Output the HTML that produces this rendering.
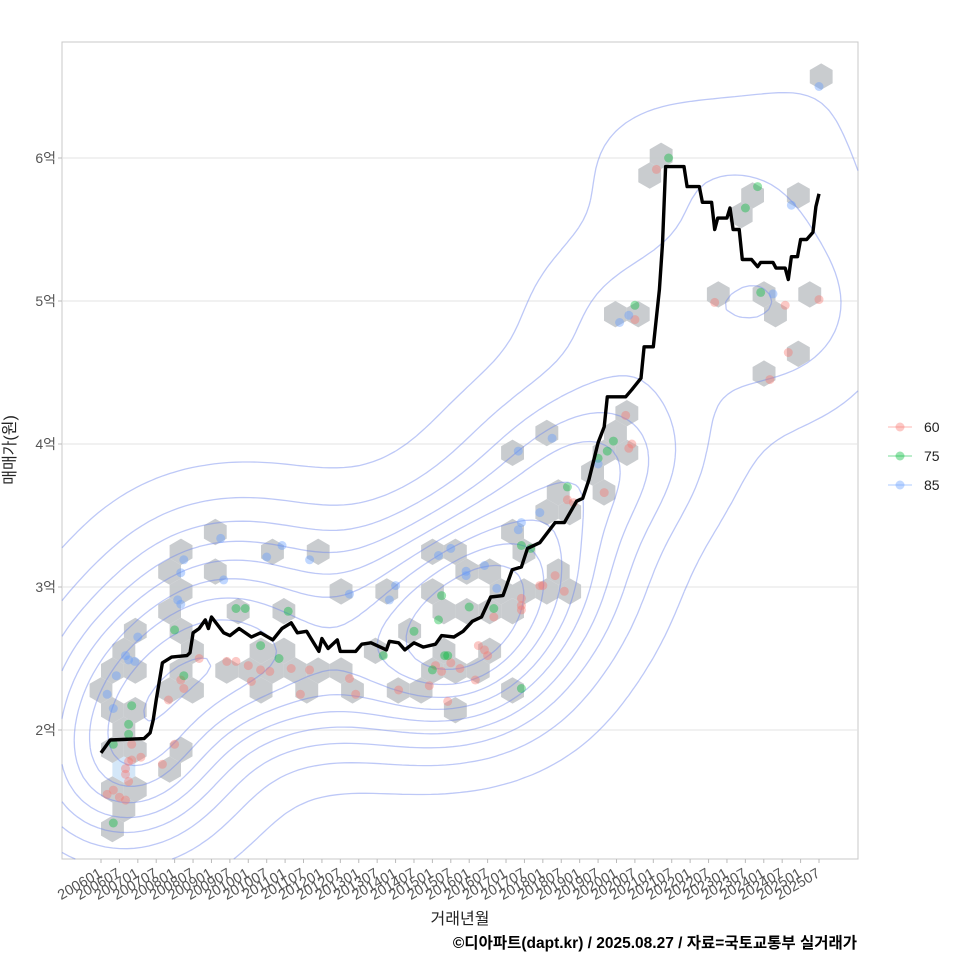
<!DOCTYPE html>
<html><head><meta charset="utf-8">
<style>
html,body{margin:0;padding:0;background:#fff;}
svg{display:block;font-family:"Liberation Sans","Noto Sans CJK KR",sans-serif;}
</style></head>
<body>
<svg id="chart" width="960" height="960" viewBox="0 0 960 960">
<rect x="0" y="0" width="960" height="960" fill="#fff"/>
<rect x="62" y="42" width="796" height="817" fill="#fff" stroke="#c8c8c8" stroke-width="1"/>
<g id="grid"></g>
<g id="hexes"></g>
<g id="contours"></g>
<g id="points"></g>
<g id="line"></g>
<g id="yaxis"></g>
<g id="xaxis"></g>
<text x="15" y="450" font-size="16" fill="#222" text-anchor="middle" transform="rotate(-90 15 450)">매매가(원)</text>
<text x="460" y="924" font-size="16" fill="#222" text-anchor="middle">거래년월</text>
<text x="857" y="948" font-size="15.5" font-weight="bold" fill="#000" text-anchor="end">©디아파트(dapt.kr) / 2025.08.27 / 자료=국토교통부 실거래가</text>
<g id="legend"></g>
</svg>
<script>
// ---- data (month index from 2006-01, price in 억) ----
const tickLabels = ["200601","200607","200701","200707","200801","200807","200901","200907","201001","201007","201101","201107","201201","201207","201301","201307","201401","201407","201501","201507","201601","201607","201701","201707","201801","201807","201901","201907","202001","202007","202101","202107","202201","202207","202301","202307","202401","202407","202501","202507"];
const yTicks = [2,3,4,5,6];
const yTickLabels = ["2억","3억","4억","5억","6억"];
const lineMonths = [0,3,14,16,17,18,20,23,28,29,30,32,34,35,36,40,42,45,49,52,56,59,62,64,67,71,72,74,77,78,83,85,88,93,94,97,99,102,105,109,111,115,118,121,124,127,131,134,137,139,143,148,151,155,157,159,162,164,165,171,173,176,177,180,182,183,184,190,191,195,196,199,200,201,204,205,206,208,209,212,214,215,219,220,223,224,225,227,228,230,232,233,234];
const lineValues = [1.84,1.93,1.94,1.98,2.07,2.21,2.47,2.51,2.52,2.54,2.68,2.71,2.77,2.71,2.79,2.68,2.66,2.71,2.65,2.68,2.63,2.71,2.75,2.68,2.69,2.55,2.64,2.57,2.63,2.55,2.55,2.6,2.61,2.56,2.62,2.61,2.56,2.61,2.58,2.6,2.66,2.65,2.69,2.76,2.79,2.93,2.94,3.12,3.14,3.27,3.31,3.45,3.45,3.6,3.62,3.75,4.01,4.12,4.33,4.33,4.38,4.46,4.68,4.68,5.08,5.4,5.94,5.94,5.8,5.8,5.69,5.69,5.5,5.58,5.58,5.65,5.5,5.5,5.29,5.29,5.24,5.27,5.27,5.23,5.23,5.15,5.31,5.31,5.43,5.43,5.48,5.66,5.75];
const redMonths = [2,4,6,8,8,9,8,9,10,10,13,20,24,26,27,22,32,41,44,48,49,52,55,62,65,68,81,83,97,107,109,111,113,114,117,122,123,125,126,128,137,137,137,143,144,148,151,152,154,164,172,173,171,174,181,200,223,218,224,234];
const redValues = [1.55,1.58,1.53,1.51,1.69,1.64,1.73,1.78,1.9,1.79,1.81,1.76,1.9,2.35,2.29,2.21,2.5,2.48,2.48,2.45,2.34,2.42,2.41,2.43,2.25,2.42,2.36,2.25,2.28,2.31,2.45,2.41,2.2,2.47,2.43,2.35,2.59,2.56,2.52,2.79,2.92,2.87,2.84,3.01,3.01,3.08,2.97,3.61,3.59,3.66,3.97,4.0,4.2,4.87,5.92,4.99,4.97,4.45,4.64,5.01];
const greenMonths = [4,4,10,9,9,27,24,44,47,61,52,58,92,102,108,110,112,113,111,120,128,137,137,140,152,162,165,167,174,185,210,214,215];
const greenValues = [1.35,1.9,2.17,2.04,1.97,2.38,2.7,2.85,2.85,2.83,2.59,2.5,2.52,2.69,2.42,2.77,2.52,2.52,2.94,2.86,2.85,2.29,3.29,3.27,3.7,3.9,3.95,4.02,4.97,6.0,5.65,5.8,5.06];
const blueMonths = [2,4,5,8,9,11,12,25,26,27,26,39,40,54,59,68,81,94,96,110,114,119,119,125,129,136,137,143,147,136,162,169,172,219,225,234];
const blueValues = [2.25,2.15,2.38,2.52,2.49,2.48,2.65,2.91,2.88,3.19,3.1,3.34,3.05,3.21,3.29,3.19,2.95,2.91,3.01,3.22,3.27,3.08,3.11,3.15,2.99,3.4,3.45,3.52,4.04,3.95,3.86,4.85,4.9,5.05,5.67,6.5];
const seriesNames = ["60","75","85"];
const seriesColors = ["#F8766D","#00BA38","#619CFF"];

// ---- scales ----
const X0=101, PX_PER_MONTH=(819-101)/234;
const xScale = m => X0 + m*PX_PER_MONTH;
const yScale = v => 730 - (v-2)*143;
const NS="http://www.w3.org/2000/svg";
function mk(tag, attrs, parent){const e=document.createElementNS(NS,tag);for(const k in attrs)e.setAttribute(k,attrs[k]);parent.appendChild(e);return e;}

// grid + y axis
const gGrid=document.getElementById('grid'), gY=document.getElementById('yaxis');
yTicks.forEach((v,i)=>{
  const y=yScale(v);
  const gl=mk('line',{x1:62,x2:858,y1:y,y2:y,stroke:'#e3e3e3','stroke-width':1},gGrid);
  
  
  const tk=mk('line',{x1:58,x2:62,y1:y,y2:y,stroke:'#bbb'},gY);
  
  
  const t=mk('text',{x:56,y:y+5,'font-size':14,fill:'#555','text-anchor':'end'},gY);
  t.textContent=yTickLabels[i];
  
  
});
// x axis
const gX=document.getElementById('xaxis');
tickLabels.forEach((lab,i)=>{
  const x=xScale(i*6);
  const tk=mk('line',{x1:x,x2:x,y1:859,y2:863,stroke:'#bbb'},gX);
  
  
  const t=mk('text',{x:x+2,y:876,'font-size':14.5,fill:'#555','text-anchor':'end',transform:`rotate(-30 ${x+2} 876)`},gX);
  t.textContent=lab;
  
  
});

// all points in pixel space
const allSeries=[[redMonths,redValues],[greenMonths,greenValues],[blueMonths,blueValues]];
const pts=[];
allSeries.forEach(([ms,vs],si)=>ms.forEach((m,j)=>pts.push({x:xScale(m),y:yScale(vs[j]),s:si})));

// hex bins
const R=13.2, HW=R*Math.sqrt(3), RS=1.5*R;
const bins={};
pts.forEach(p=>{
  const row=Math.round((p.y-730)/RS);
  const off=(row&1)?HW/2:0;
  const col=Math.round((p.x-X0-off)/HW);
  const key=row+','+col;
  bins[key]=(bins[key]||0)+1;
});
const gH=document.getElementById('hexes');
Object.keys(bins).forEach(k=>{
  const [row,col]=k.split(',').map(Number);
  const off=(row&1)?HW/2:0;
  const cx=X0+col*HW+off, cy=730+row*RS;
  let d='';
  for(let a=0;a<6;a++){const ang=Math.PI/180*(60*a-90);d+=(a?'L':'M')+(cx+R*Math.cos(ang)).toFixed(1)+' '+(cy+R*Math.sin(ang)).toFixed(1);}
  const h=mk('path',{d:d+'Z',fill:bins[k]>=4?'#d2e6f8':'#c6c9cc',opacity:0.95},gH);
  
  
});

// density contours (KDE + marching squares)
(function(){
  const nx=110, ny=110, x0=62,x1=858,y0=42,y1=859;
  const hx=68, hy=55;
  const G=[];let mx=0;
  for(let j=0;j<=ny;j++){G[j]=[];const gy=y0+(y1-y0)*j/ny;
    for(let i=0;i<=nx;i++){const gx=x0+(x1-x0)*i/nx;let s=0;
      for(const p of pts){const dx=(gx-p.x)/hx, dy=(gy-p.y)/hy;s+=Math.exp(-0.5*(dx*dx+dy*dy));}
      G[j][i]=s;if(s>mx)mx=s;}}
  const levels=[0.06,0.16,0.26,0.36,0.46,0.56,0.66,0.76,0.86].map(f=>f*mx);
  const gC=document.getElementById('contours');
  let d='';
  const px=i=>x0+(x1-x0)*i/nx, py=j=>y0+(y1-y0)*j/ny;
  levels.forEach(L=>{
    for(let j=0;j<ny;j++)for(let i=0;i<nx;i++){
      const a=G[j][i],b=G[j][i+1],c=G[j+1][i+1],e=G[j+1][i];
      const segs=[];
      const edges=[[a,b,(t)=>[px(i+t),py(j)]],[b,c,(t)=>[px(i+1),py(j+t)]],[e,c,(t)=>[px(i+t),py(j+1)]],[a,e,(t)=>[px(i),py(j+t)]]];
      edges.forEach(([u,v,f])=>{if((u<L)!==(v<L)){segs.push(f((L-u)/(v-u)));}});
      for(let s=0;s+1<segs.length;s+=2){d+='M'+segs[s][0].toFixed(1)+' '+segs[s][1].toFixed(1)+'L'+segs[s+1][0].toFixed(1)+' '+segs[s+1][1].toFixed(1);}
    }
  });
  const c=mk('path',{d:d,fill:'none',stroke:'#6d86ee','stroke-opacity':0.45,'stroke-width':1.3},gC);
  
  
})();

// points
const gP=document.getElementById('points');
pts.forEach(p=>{
  const c=mk('circle',{cx:p.x.toFixed(1),cy:p.y.toFixed(1),r:4.5,fill:seriesColors[p.s],'fill-opacity':0.4},gP);
  
  
});

// median line
const ld=lineMonths.map((m,i)=>(i?'L':'M')+xScale(m).toFixed(1)+' '+yScale(lineValues[i]).toFixed(1)).join('');
const ml=mk('path',{d:ld,fill:'none',stroke:'#000','stroke-width':3.4,'stroke-linejoin':'round'},document.getElementById('line'));



// legend
const gL=document.getElementById('legend');
seriesNames.forEach((n,i)=>{
  const y=427+i*29;
  const g=mk('g',{},gL);
  
  
  mk('line',{x1:888,x2:912,y1:y,y2:y,stroke:seriesColors[i],'stroke-opacity':0.35,'stroke-width':1.5},g);
  mk('circle',{cx:900,cy:y,r:4.5,fill:seriesColors[i],'fill-opacity':0.4},g);
  const t=mk('text',{x:924,y:y+5,'font-size':14,fill:'#222'},g);
  t.textContent=n;
});
</script>
</body></html>
